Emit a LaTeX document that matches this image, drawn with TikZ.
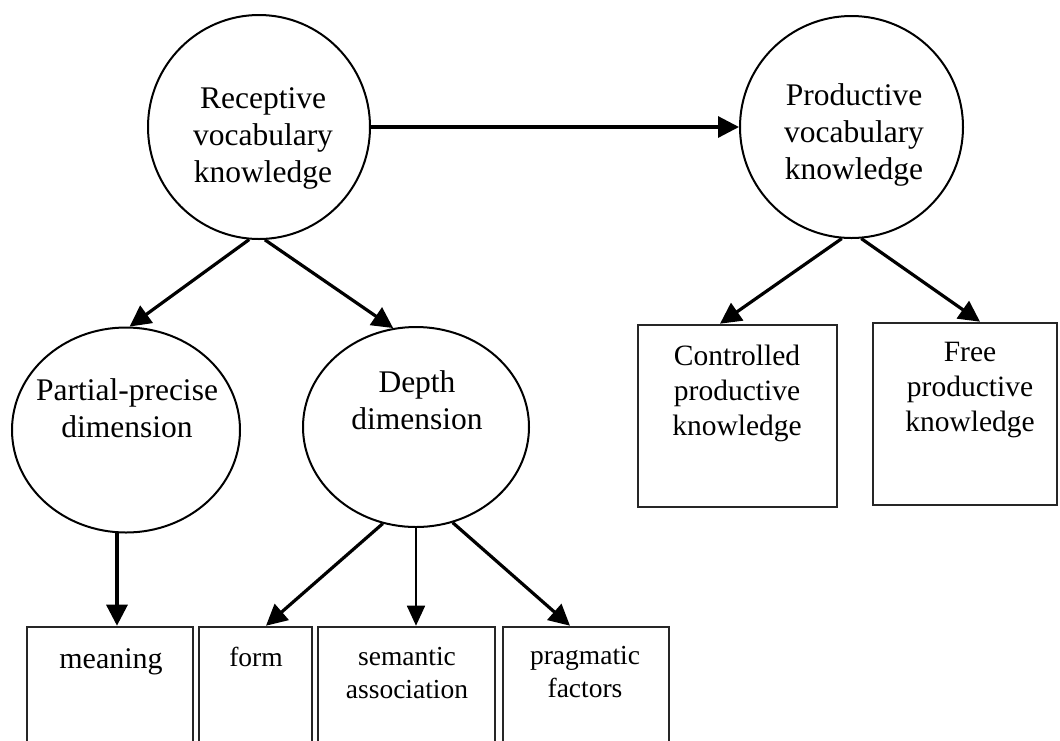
\documentclass[tikz,border=0pt]{standalone}
\usepackage{fontspec}
\setmainfont{Liberation Serif}
\usetikzlibrary{arrows.meta,shapes.geometric}
\begin{document}
\begin{tikzpicture}[x=1pt,y=-1pt,
  ring/.style={draw,ellipse,line width=2pt,inner sep=0pt},
  box/.style={draw=black!85,line width=2.6pt,inner sep=0pt},
  big/.style={align=center,font=\fontsize{31.5}{37}\selectfont},
  mid/.style={align=center,font=\fontsize{29.5}{35}\selectfont},
  small/.style={align=center,font=\fontsize{27.5}{33}\selectfont},
  arr/.style={-{Triangle[length=21pt,width=21pt]},line width=3.2pt},
  thinarr/.style={-{Triangle[length=20pt,width=18pt]},line width=1.8pt}]
\useasboundingbox (0,0) rectangle (1060,740);
\clip (0,0) rectangle (1060,740);
% circles
\node[ring,minimum width=222pt,minimum height=224pt] (rec) at (259,127){};
\node[ring,minimum width=223pt,minimum height=222pt] (prod) at (851.5,127){};
\node[ring,minimum width=228pt,minimum height=205pt] (part) at (126,430){};
\node[ring,minimum width=226pt,minimum height=200pt] (depth) at (416,427){};
\node[big] (recT) at (263,138){Receptive\\vocabulary\\knowledge};
\node[big] (prodT) at (854,135){Productive\\vocabulary\\knowledge};
\node[big] (partT) at (127,408){Partial-precise\\dimension};
\node[big] (depthT) at (417,400){Depth\\dimension};
% boxes
\node[box,minimum width=199pt,minimum height=182pt] (ctrl) at (737.5,416){};
\node[box,minimum width=184pt,minimum height=182pt] (free) at (965,414){};
\node[box,minimum width=166pt,minimum height=140pt] (mean) at (110,697){};
\node[box,minimum width=113pt,minimum height=140pt] (form) at (255.5,697){};
\node[box,minimum width=177pt,minimum height=140pt] (sem) at (406.5,697){};
\node[box,minimum width=166pt,minimum height=140pt] (prag) at (586,697){};
\node[mid] (ctrlT) at (737,393){Controlled\\productive\\knowledge};
\node[mid] (freeT) at (970,390){Free\\productive\\knowledge};
\node[font=\fontsize{30}{36}\selectfont] (meanT) at (111,662){meaning};
\node[small] (formT) at (256,657){form};
\node[small] (semT) at (407,673){semantic\\association};
\node[small] (pragT) at (585,672){pragmatic\\factors};
% arrows
\draw[arr] (rec.east) -- (prod.west);
\draw[arr] (rec.265) -- (part.88);
\draw[arr] (rec.273) -- (depth.103);
\draw[arr] (prod.265) -- ([xshift=-17.5pt]ctrl.north);
\draw[arr] (prod.275) -- ([xshift=15pt]free.north);
\draw[arr] (part.265) -- (part.265 |- mean.north);
\draw[arr] (depth.251) -- ([xshift=10.5pt]form.north);
\draw[thinarr] (depth.south) -- (depth.south |- sem.north);
\draw[arr] (depth.291) -- ([xshift=-16pt]prag.north);
\end{tikzpicture}
\end{document}
